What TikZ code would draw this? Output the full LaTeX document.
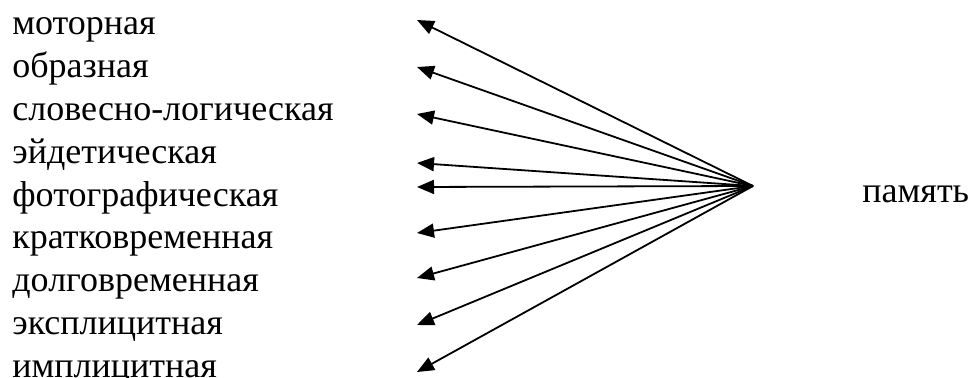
\documentclass[tikz,border=0pt]{standalone}
\usepackage{fontspec}
\setmainfont{Liberation Serif}
\usetikzlibrary{arrows.meta}

\tikzset{
  kind/.style={anchor=base west, inner sep=0pt, font=\fontsize{18}{21.5}\selectfont},
  branch/.style={->, line width=0.9pt}
}

\begin{document}
\begin{tikzpicture}[x=0.5pt, y=-0.5pt, >={Triangle[length=8.5pt, width=7pt]}]
  \useasboundingbox (0,0) rectangle (972,378);
  % kinds of memory
  \foreach \i/\name in {0/моторная, 1/образная, 2/словесно-логическая, 3/эйдетическая,
      4/фотографическая, 5/кратковременная, 6/долговременная, 7/эксплицитная, 8/имплицитная} {
    \node[kind] (k\i) at (12,{35+\i*42.8}) {\name};
  }
  % hub and arrow tips
  \coordinate (hub) at (753,186);
  \foreach \i/\y in {0/20, 1/67, 2/114, 3/163, 4/187, 5/233, 6/278, 7/325, 8/372} {
    \coordinate (t\i) at (417,\y);
  }
  \node[kind] (mem) at (862,203) {память};
  % arrows
  \foreach \i in {0,...,8} {
    \draw[branch] (hub) -- (t\i);
  }
\end{tikzpicture}
\end{document}
